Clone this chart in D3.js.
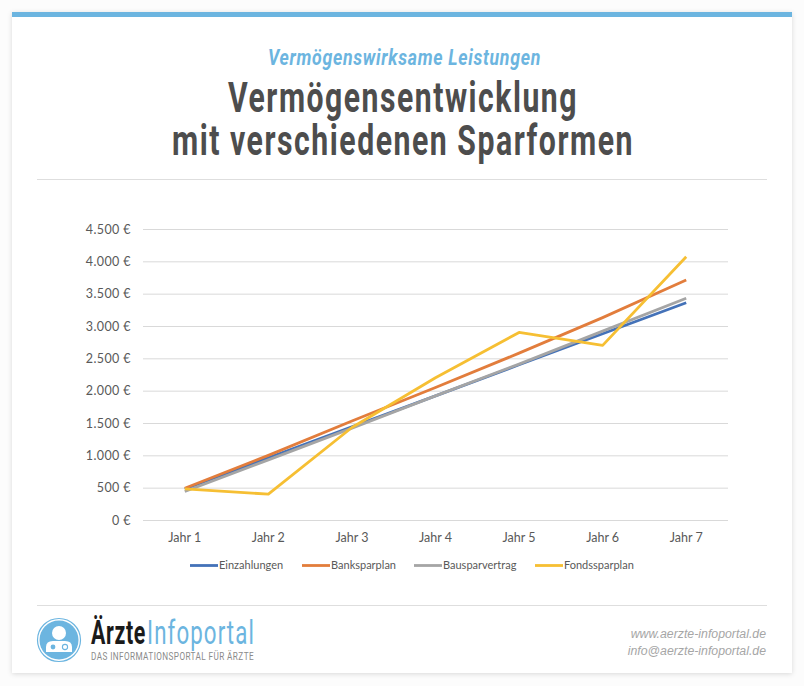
<!DOCTYPE html>
<html>
<head>
<meta charset="utf-8">
<script src="https://cdn.jsdelivr.net/npm/d3@7"></script>
<style>
html, body { margin: 0; padding: 0; background: #fcfcfc; }
svg { display: block; }
</style>
</head>
<body>
<div id="chart"></div>
<script>
// values
var years = ["Jahr 1", "Jahr 2", "Jahr 3", "Jahr 4", "Jahr 5", "Jahr 6", "Jahr 7"];
var yTicks = [0, 500, 1000, 1500, 2000, 2500, 3000, 3500, 4000, 4500];
var seriesNames = ["Einzahlungen", "Banksparplan", "Bausparvertrag", "Fondssparplan"];
var seriesColors = ["#4472b8", "#e27d3c", "#a5a5a5", "#f6bf33"];
var einzahlungen = [480, 960, 1440, 1920, 2400, 2880, 3360];
var banksparplan = [490, 1000, 1530, 2050, 2580, 3130, 3710];
var bausparvertrag = [440, 930, 1420, 1920, 2410, 2920, 3430];
var fondssparplan = [480, 400, 1430, 2200, 2900, 2700, 4070];
var allSeries = [einzahlungen, banksparplan, bausparvertrag, fondssparplan];

var width = 804, height = 686;
var blue = "#6cb5e0", dark = "#4d4d4d";

var svg = d3.select("#chart").append("svg")
    .attr("width", width)
    .attr("height", height);

// soft shadow of the white card
var filter = svg.append("defs").append("filter")
    .attr("id", "shadow")
    .attr("x", "-5%").attr("y", "-5%").attr("width", "110%").attr("height", "110%");
filter.append("feDropShadow")
    .attr("dx", 0).attr("dy", 1).attr("stdDeviation", 2.5)
    .attr("flood-color", "#000").attr("flood-opacity", 0.14);

svg.append("rect")
    .attr("x", 12).attr("y", 12).attr("width", 780).attr("height", 661)
    .attr("fill", "#fff")
    .attr("filter", "url(#shadow)");
svg.append("rect")
    .attr("x", 12).attr("y", 12).attr("width", 780).attr("height", 5)
    .attr("fill", blue);

// condensed headline font is not installed, so letterspace Roboto and squeeze it to the right width
function fitted(x, y, len, size, txt, color, weight, style, spacing) {
    return svg.append("text")
        .attr("x", x).attr("y", y)
        .attr("textLength", len)
        .attr("lengthAdjust", "spacingAndGlyphs")
        .style("font-family", "Roboto")
        .style("font-size", size + "px")
        .style("font-weight", weight)
        .style("font-style", style || "normal")
        .style("letter-spacing", (spacing || 0) + "em")
        .attr("fill", color)
        .text(txt);
}

fitted(268, 64.5, 273, 22, "Vermögenswirksame Leistungen", blue, 700, "italic", 0.04);
fitted(228, 112, 350, 42, "Vermögensentwicklung", dark, 700, "normal", 0.05);
fitted(172, 155, 462, 42, "mit verschiedenen Sparformen", dark, 700, "normal", 0.05);

svg.append("line").attr("x1", 37).attr("x2", 767).attr("y1", 179.5).attr("y2", 179.5)
    .attr("stroke", "#dedede");
svg.append("line").attr("x1", 37).attr("x2", 767).attr("y1", 605.5).attr("y2", 605.5)
    .attr("stroke", "#dedede");

// chart
var plot = {left: 143, right: 728, top: 229, bottom: 520};
var x = d3.scaleBand().domain(years).range([plot.left, plot.right]);
var y = d3.scaleLinear().domain([0, 4500]).range([plot.bottom, plot.top]);
var de = d3.formatLocale({decimal: ",", thousands: ".", grouping: [3], currency: ["", " €"]});

var yAxis = d3.axisLeft(y)
    .tickValues(yTicks)
    .tickSize(-(plot.right - plot.left))
    .tickPadding(12)
    .tickFormat(function(d) { return de.format(",")(d) + " €"; });
var gy = svg.append("g")
    .attr("transform", "translate(" + plot.left + ",0)")
    .call(yAxis);
gy.select(".domain").remove();
gy.selectAll("line").attr("stroke", "#d9d9d9");

var xAxis = d3.axisBottom(x).tickSize(0).tickPadding(13);
var gx = svg.append("g")
    .attr("transform", "translate(0," + plot.bottom + ")")
    .call(xAxis);
gx.select(".domain").remove();

svg.selectAll("g text")
    .style("font-family", "Lato")
    .style("font-size", "12.5px")
    .attr("fill", "#595959");
gy.selectAll("text").style("letter-spacing", "0.4px");

var line = d3.line()
    .x(function(d, i) { return x(years[i]) + x.bandwidth() / 2; })
    .y(function(d) { return y(d); });

svg.selectAll(".serie").data(allSeries)
    .enter().append("path")
    .attr("class", "serie")
    .attr("d", line)
    .attr("fill", "none")
    .attr("stroke", function(d, i) { return seriesColors[i]; })
    .attr("stroke-width", 2.8)
    .attr("stroke-linejoin", "round");

// legend
var legendX = [190, 302, 414, 535];
var legend = svg.selectAll(".legend").data(seriesNames)
    .enter().append("g")
    .attr("class", "legend")
    .attr("transform", function(d, i) { return "translate(" + legendX[i] + ",565.5)"; });
legend.append("line")
    .attr("x1", 0).attr("x2", 28)
    .attr("stroke", function(d, i) { return seriesColors[i]; })
    .attr("stroke-width", 2.8);
legend.append("text")
    .attr("x", 29).attr("dy", "0.35em")
    .style("font-family", "Lato")
    .style("font-size", "11px")
    .attr("fill", "#595959")
    .text(function(d) { return d; });

// logo
var logo = svg.append("g").attr("transform", "translate(59,640)");
logo.append("circle").attr("r", 21.5).attr("fill", "#fff").attr("stroke", blue).attr("stroke-width", 1.2);
logo.append("circle").attr("r", 19.5).attr("fill", blue);
logo.append("circle").attr("cy", -7).attr("r", 7).attr("fill", "#fff");
logo.append("path")
    .attr("d", "M-13,12 V7 Q-13,1 -6,1 H6 Q13,1 13,7 V12 Z")
    .attr("fill", "#fff");
logo.append("circle").attr("cx", -6).attr("cy", 7).attr("r", 2.4).attr("fill", blue);
logo.append("circle").attr("cx", 6).attr("cy", 7).attr("r", 2.6)
    .attr("fill", "none").attr("stroke", blue).attr("stroke-width", 1.1);

fitted(91, 644, 55, 33, "Ärzte", "#1a1a1a", 700, "normal", 0.03);
fitted(147, 644, 108, 33, "Infoportal", blue, 400, "normal", 0.05);
fitted(91, 660, 163, 10, "DAS INFORMATIONSPORTAL FÜR ÄRZTE", "#8a8a8a", 400, "normal", 0.05);

svg.selectAll(".contact").data(["www.aerzte-infoportal.de", "info@aerzte-infoportal.de"])
    .enter().append("text")
    .attr("class", "contact")
    .attr("x", 766)
    .attr("y", function(d, i) { return 637.5 + i * 17; })
    .attr("text-anchor", "end")
    .style("font-family", "Liberation Sans")
    .style("font-size", "12.3px")
    .style("font-style", "italic")
    .attr("fill", "#a6a6a6")
    .text(function(d) { return d; });
</script>
</body>
</html>
